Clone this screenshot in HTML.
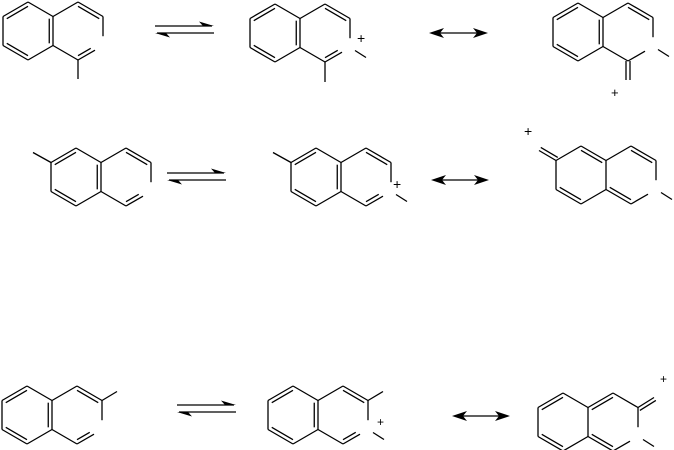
<!DOCTYPE html>
<html><head><meta charset="utf-8"><style>
html,body{margin:0;padding:0;background:#fff;}
svg{display:block;}
text{font-family:"Liberation Sans",sans-serif;fill:#000;}
</style></head><body>
<svg id="s" width="674" height="450" viewBox="0 0 674 450" xmlns="http://www.w3.org/2000/svg">
<g id="g" stroke="#000" stroke-width="1.3" fill="none" stroke-linecap="butt"></g>
<g fill="#000" stroke="none" id="h"></g>
<text x="357" y="43" font-size="14">+</text>
<text x="611" y="97" font-size="13">+</text>
<text x="393" y="189" font-size="14">+</text>
<text x="524" y="136" font-size="14">+</text>
<text x="377" y="426" font-size="12">+</text>
<text x="660" y="383" font-size="12">+</text>
</svg>
<script>
var g=document.getElementById('g'),H=document.getElementById('h');
function L(x1,y1,x2,y2){var e=document.createElementNS('http://www.w3.org/2000/svg','line');e.setAttribute('x1',x1);e.setAttribute('y1',y1);e.setAttribute('x2',x2);e.setAttribute('y2',y2);g.appendChild(e);}
function P(pts){var e=document.createElementNS('http://www.w3.org/2000/svg','polygon');e.setAttribute('points',pts);H.appendChild(e);}
var S=29,W=25;
function V(cx,cy){return {T:[cx,cy-S],UR:[cx+W,cy-S/2],LR:[cx+W,cy+S/2],B:[cx,cy+S],LL:[cx-W,cy+S/2],UL:[cx-W,cy-S/2],C:[cx,cy]};}
function lerp(a,b,t){return [a[0]+(b[0]-a[0])*t,a[1]+(b[1]-a[1])*t];}
function bond(a,b,t1,t2){t1=t1||0;t2=t2===undefined?1:t2;var p=lerp(a,b,t1),q=lerp(a,b,t2);L(p[0],p[1],q[0],q[1]);}
function inner(a,b,c,t2){var p=lerp(a,c,0.15),q=lerp(b,c,0.15);if(t2!==undefined)q=lerp(p,q,t2);L(p[0],p[1],q[0],q[1]);}
function mol(cx,cy,type,opt){
 var l=V(cx,cy),r=V(cx+2*W,cy);
 bond(l.UL,l.T);bond(l.T,l.UR);bond(l.UR,l.LR);bond(l.LR,l.B);bond(l.B,l.LL);bond(l.LL,l.UL);
 bond(r.UL,r.T);bond(r.T,r.UR);bond(r.UR,r.LR,0,0.68);bond(r.B,r.LR,0,0.68);bond(r.LL,r.B);
 opt.dl.forEach(function(k){inner(l[k[0]],l[k[1]],l.C);});
 opt.dr.forEach(function(k){inner(r[k[0]],r[k[1]],r.C,k[2]);});
 var N=r.LR;
 if(opt.nme)L(N[0]+5,N[1]+3,N[0]+16,N[1]+10);
 if(opt.f)opt.f(l,r);
}
function exo(p,dx,dy){L(p[0],p[1],p[0]+dx,p[1]+dy);var n=Math.hypot(dx,dy),ox=-dy/n*3.5,oy=dx/n*3.5;L(p[0]+ox,p[1]+oy,p[0]+dx+ox,p[1]+dy+oy);}
var stdL=[['UL','T'],['UR','LR'],['B','LL']];
var stdR=[['T','UR'],['B','LR',0.6]];
mol(28,31,1,{dl:stdL,dr:stdR,f:function(l,r){L(r.B[0],r.B[1],r.B[0],r.B[1]+19);}});
mol(275,33,1,{dl:stdL,dr:stdR,nme:1,f:function(l,r){L(r.B[0],r.B[1],r.B[0],r.B[1]+20);}});
mol(578,32,1,{dl:stdL,dr:[['T','UR']],nme:1,f:function(l,r){L(r.B[0]-2,r.B[1],r.B[0]-2,r.B[1]+19);L(r.B[0]+2,r.B[1],r.B[0]+2,r.B[1]+19);}});
mol(76,177,2,{dl:stdL,dr:stdR,f:function(l,r){L(l.UL[0],l.UL[1],l.UL[0]-18,l.UL[1]-10);}});
mol(316,177,2,{dl:stdL,dr:stdR,nme:1,f:function(l,r){L(l.UL[0],l.UL[1],l.UL[0]-18,l.UL[1]-10);}});
mol(581,175,2,{dl:[['T','UR'],['B','LL']],dr:[['T','UR'],['LL','B']],nme:1,f:function(l,r){exo(l.UL,-17,-10);}});
mol(27,415,3,{dl:stdL,dr:stdR,f:function(l,r){L(r.UR[0],r.UR[1],r.UR[0]+15,r.UR[1]-9);}});
mol(293,415,3,{dl:stdL,dr:stdR,nme:1,f:function(l,r){L(r.UR[0],r.UR[1],r.UR[0]+15,r.UR[1]-9);}});
mol(563,422,3,{dl:[['UL','T'],['B','LL']],dr:[['UL','T'],['LL','B']],nme:1,f:function(l,r){exo(r.UR,16,-10);}});
function eq(x1,x2,y1,y2){L(x1,y1,x2-2,y1);P(x2+','+y1+' '+(x2-15)+','+(y1-4.5)+' '+(x2-11)+','+y1);L(x1+2,y2,x2,y2);P(x1+','+y2+' '+(x1+15)+','+(y2+4.5)+' '+(x1+11)+','+y2);}
function res(x1,x2,y){L(x1+6,y,x2-6,y);P(x1+','+y+' '+(x1+15)+','+(y-5)+' '+(x1+11)+','+y+' '+(x1+15)+','+(y+5));P(x2+','+y+' '+(x2-15)+','+(y-5)+' '+(x2-11)+','+y+' '+(x2-15)+','+(y+5));}
eq(155,214,26,33);eq(167,226,173,180);eq(177,236,405,412);
res(429,488,33);res(431,489,180);res(452,510,416);
</script>
</body></html>
